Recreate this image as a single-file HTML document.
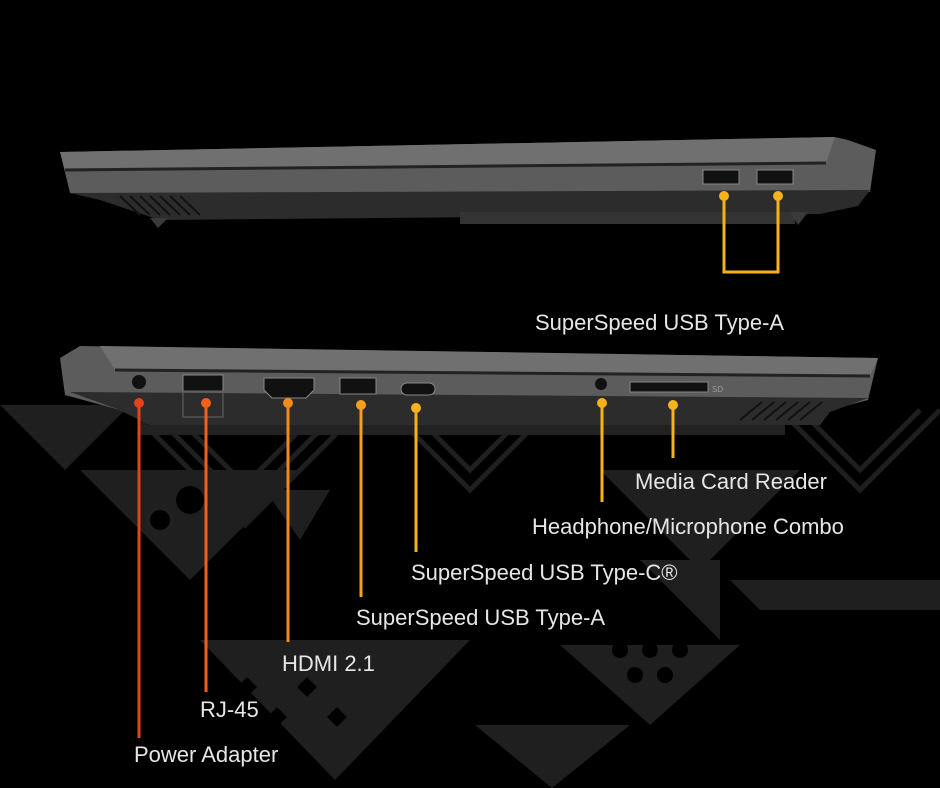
<!DOCTYPE html>
<html><head><style>
html,body{margin:0;padding:0;background:#000;}
svg{display:block}
text{font-family:"Liberation Sans",sans-serif;font-size:22px;fill:#e6e6e6}
</style></head><body>
<svg width="940" height="788" viewBox="0 0 940 788">
<rect width="940" height="788" fill="#000"/>
<!-- background pattern -->
<g fill="#1f1f1f">
 <polygon points="0,405 130,405 65,470"/>
 <g stroke="#1f1f1f" stroke-width="5" fill="none">
  <polyline points="10,410 65,465 120,410"/><polyline points="25,410 65,450 105,410"/>
  <polyline points="140,420 245,525 350,420"/><polyline points="160,420 245,505 330,420"/>
  <polyline points="180,420 245,485 310,420"/>
  <polyline points="400,420 470,490 540,420"/><polyline points="420,420 470,470 520,420"/>
  <polyline points="780,410 860,490 940,410"/><polyline points="800,410 860,470 920,410"/>
 </g>
 <polygon points="80,470 300,470 190,580"/>
 <polygon points="600,470 800,470 700,570" />
 <polygon points="730,580 940,580 940,610 760,610"/>
 <polygon points="200,640 470,640 335,780"/>
 <polygon points="475,725 630,725 552,788"/>
 <polygon points="560,645 740,645 650,725"/>
 <polygon points="640,560 720,560 720,640"/>
 <polygon points="265,490 330,490 300,540"/>
</g>
<g fill="#000">
 <circle cx="190" cy="500" r="14"/><circle cx="160" cy="520" r="10"/>
 <circle cx="650" cy="650" r="8"/><circle cx="680" cy="650" r="8"/><circle cx="620" cy="650" r="8"/>
 <circle cx="665" cy="675" r="8"/><circle cx="635" cy="675" r="8"/>
 <rect x="240" y="680" width="14" height="14" transform="rotate(45 247 687)"/>
 <rect x="300" y="680" width="14" height="14" transform="rotate(45 307 687)"/>
 <rect x="270" y="710" width="14" height="14" transform="rotate(45 277 717)"/>
 <rect x="330" y="710" width="14" height="14" transform="rotate(45 337 717)"/>
</g>
<!-- top laptop -->
<polygon points="60,152 835,137 848,140 876,150 870,192 830,195 70,193" fill="#5c5c5c"/>
<polygon points="60,152 835,137 826,163 65,170" fill="#707070"/>
<line x1="65" y1="170" x2="826" y2="163" stroke="#222" stroke-width="3"/>
<polygon points="70,193 870,190 858,206 820,214 160,220 100,200" fill="#2c2c2c"/>
<polygon points="460,212 795,212 795,224 460,224" fill="#333"/>
<polygon points="150,218 168,218 158,228" fill="#3a3a3a"/>
<polygon points="790,212 808,212 798,225" fill="#3a3a3a"/>
<g stroke="#111" stroke-width="2"><line x1="120" y1="196" x2="140" y2="215"/><line x1="130" y1="196" x2="150" y2="215"/><line x1="140" y1="196" x2="160" y2="215"/><line x1="150" y1="196" x2="170" y2="215"/><line x1="160" y1="196" x2="180" y2="215"/><line x1="170" y1="196" x2="190" y2="215"/><line x1="180" y1="196" x2="200" y2="215"/></g>
<rect x="703" y="170" width="36" height="14" fill="#111" stroke="#888"/>
<rect x="757" y="170" width="36" height="14" fill="#111" stroke="#888"/>
<!-- top connectors -->
<g stroke="#f5b21a" stroke-width="3" fill="none"><polyline points="724,196 724,272 778,272 778,196"/></g>
<circle cx="724" cy="196" r="5" fill="#f5b21a"/><circle cx="778" cy="196" r="5" fill="#f5b21a"/>
<text x="535" y="330">SuperSpeed USB Type-A</text>
<!-- bottom laptop -->
<polygon points="60,358 80,346 878,358 868,400 830,410 820,425 150,425 120,410 65,395" fill="#5c5c5c"/>
<polygon points="100,346 878,358 870,376 115,370" fill="#707070"/>
<line x1="115" y1="370" x2="870" y2="376" stroke="#222" stroke-width="3"/>
<polygon points="70,392 868,398 830,412 820,425 150,425 120,410" fill="#2c2c2c"/>
<polygon points="140,425 785,425 785,435 140,435" fill="#222"/>
<g stroke="#111" stroke-width="2"><line x1="740" y1="420" x2="762" y2="402"/><line x1="752" y1="420" x2="774" y2="402"/><line x1="764" y1="420" x2="786" y2="402"/><line x1="776" y1="420" x2="798" y2="402"/><line x1="788" y1="420" x2="810" y2="402"/><line x1="800" y1="420" x2="822" y2="402"/></g>
<circle cx="139" cy="382" r="7" fill="#111"/>
<rect x="183" y="375" width="40" height="16" fill="#111" stroke="#888"/>
<rect x="183" y="391" width="40" height="26" fill="none" stroke="#666"/>
<polygon points="264,378 314,378 314,390 306,398 272,398 264,390" fill="#111" stroke="#888"/>
<rect x="340" y="378" width="36" height="16" fill="#111" stroke="#888"/>
<rect x="401" y="383" width="34" height="12" rx="6" fill="#111" stroke="#888"/>
<circle cx="601" cy="384" r="6" fill="#111"/>
<rect x="630" y="382" width="78" height="10" fill="#111" stroke="#888"/>
<text x="712" y="392" style="font-size:8px;fill:#999">SD</text>
<!-- bottom connectors -->
<g stroke-width="3">
 <line x1="139" y1="403" x2="139" y2="738" stroke="#e8421a"/>
 <line x1="206" y1="403" x2="206" y2="692" stroke="#f0601a"/>
 <line x1="288" y1="403" x2="288" y2="642" stroke="#f28a1a"/>
 <line x1="361" y1="403" x2="361" y2="597" stroke="#f5a01a"/>
 <line x1="416" y1="408" x2="416" y2="552" stroke="#f5b21a"/>
 <line x1="602" y1="403" x2="602" y2="502" stroke="#f5b21a"/>
 <line x1="673" y1="403" x2="673" y2="458" stroke="#f5b21a"/>
</g>
<circle cx="139" cy="403" r="5" fill="#e8421a"/>
<circle cx="206" cy="403" r="5" fill="#f0601a"/>
<circle cx="288" cy="403" r="5" fill="#f28a1a"/>
<circle cx="361" cy="405" r="5" fill="#f5a01a"/>
<circle cx="416" cy="408" r="5" fill="#f5b21a"/>
<circle cx="602" cy="403" r="5" fill="#f5b21a"/>
<circle cx="673" cy="405" r="5" fill="#f5b21a"/>
<text x="134" y="762">Power Adapter</text>
<text x="200" y="717">RJ-45</text>
<text x="282" y="671">HDMI 2.1</text>
<text x="356" y="625">SuperSpeed USB Type-A</text>
<text x="411" y="580">SuperSpeed USB Type-C®</text>
<text x="532" y="534">Headphone/Microphone Combo</text>
<text x="635" y="489">Media Card Reader</text>
</svg>
</body></html>
